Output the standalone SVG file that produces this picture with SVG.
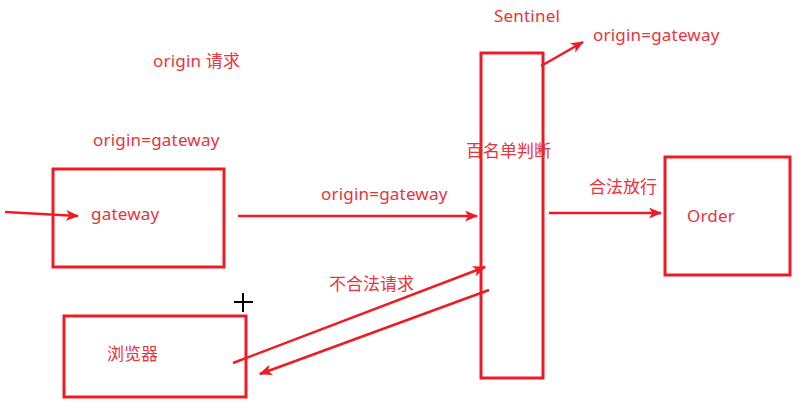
<svg xmlns="http://www.w3.org/2000/svg" width="810" height="408" viewBox="0 0 810 408">
<style>
.box{fill:none;stroke:#ed1c24;stroke-width:3}
.ln{fill:none;stroke:#ed1c24;stroke-width:2.5;marker-end:url(#ah)}
text{font-family:"Noto Sans","Noto Sans CJK SC",sans-serif;font-size:17px;fill:#e8343c}
.lat{letter-spacing:0.2px}
</style>
<defs>
<marker id="ah" viewBox="0 0 12 10" refX="11" refY="5" markerWidth="13" markerHeight="11" markerUnits="userSpaceOnUse" orient="auto">
<path d="M0,0 L12,5 L0,10 L3,5 Z" fill="#ed1c24"/>
</marker>
</defs>
<rect width="810" height="408" fill="#fff"/>
<g id="gateway"><rect class="box" x="53" y="169" width="171" height="98"/><text class="lat" x="91" y="220">gateway</text></g>
<g id="sentinel"><rect class="box" x="481" y="53" width="62" height="325"/><text class="lat" x="494" y="22">Sentinel</text><text x="466" y="157">百名单判断</text></g>
<g id="order"><rect class="box" x="665" y="157" width="125" height="118"/><text class="lat" x="687" y="222">Order</text></g>
<g id="browser"><rect class="box" x="64" y="316" width="182" height="81"/><text x="107" y="360">浏览器</text></g>
<g id="labels">
<text class="lat" x="153" y="67">origin 请求</text>
<text class="lat" x="93" y="146">origin=gateway</text>
<text class="lat" x="593" y="41">origin=gateway</text>
<text class="lat" x="321" y="200">origin=gateway</text>
<text x="589" y="193">合法放行</text>
<text x="329" y="290">不合法请求</text>
</g>
<g id="connectors">
<line class="ln" x1="5" y1="212" x2="78" y2="216"/>
<line class="ln" x1="238" y1="216" x2="477" y2="216"/>
<line class="ln" x1="549" y1="213" x2="661" y2="213"/>
<line class="ln" x1="541" y1="66" x2="583" y2="42"/>
<line class="ln" x1="233" y1="363" x2="485" y2="267"/>
<line class="ln" x1="489" y1="290" x2="260" y2="374"/>
</g>
<g id="cursor" stroke="#000" stroke-width="2"><line x1="243" y1="293" x2="243" y2="312"/><line x1="234" y1="302" x2="253" y2="302"/></g>
</svg>
